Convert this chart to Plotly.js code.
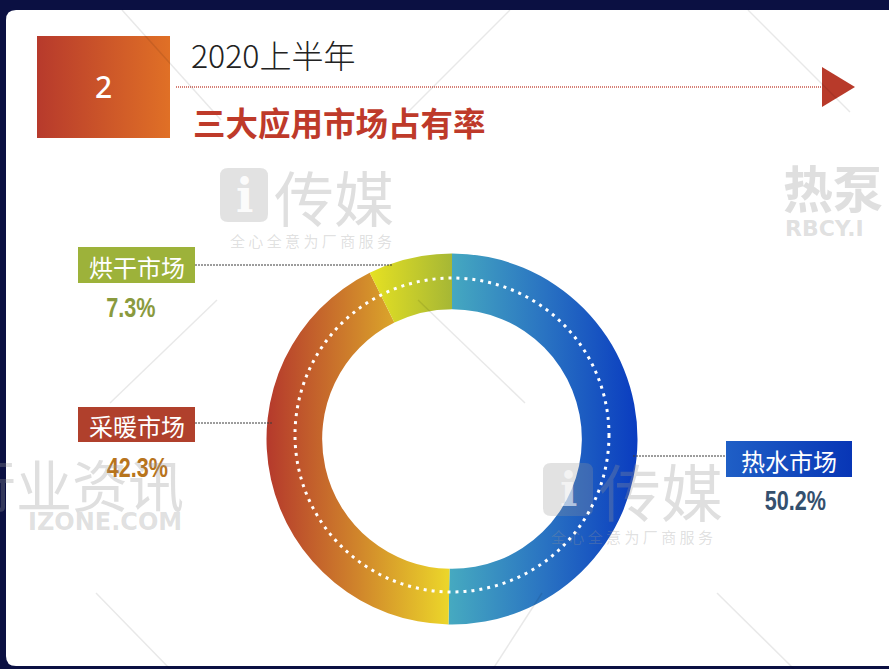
<!DOCTYPE html>
<html>
<head>
<meta charset="utf-8">
<script src="https://cdn.plot.ly/plotly-3.0.1.min.js"></script>
<style>
html,body{margin:0;padding:0;background:#0b1042;}
#plot{width:889px;height:669px;}
</style>
</head>
<body>
<div id="plot"></div>
<script>
// ---- data ----
const categories = ['热水市场', '采暖市场', '烘干市场'];
const shares = [50.2, 42.3, 7.3];
const sectionNo = '2';
const titleYear = '2020上半年';
const titleMain = '三大应用市场占有率';

// ---- styling / layout config ----
const CJK = '"Noto Sans CJK SC", "Noto Sans", sans-serif';
const PCTFONT = '"Liberation Sans", Arial, sans-serif';
const labelCfg = [
  {box: [726, 441, 852, 477], fill: '#1447bc', pct: [795, 501], pctColor: '#34506e', line: [633, 456, 726, 456]},
  {box: [78, 407, 195, 442], fill: '#b0402c', pct: [137, 468], pctColor: '#b8741c', line: [195, 423, 272, 423]},
  {box: [78, 247, 195, 283], fill: '#9db23a', pct: [131, 308], pctColor: '#8a9a3e', line: [195, 265, 392, 265]}
];
const sliceGrads = [
  [['0', '#46aac0'], ['0.5', '#2a74c2'], ['1', '#0a3cc0']],
  [['0', '#b5392c'], ['0.5', '#d0852b'], ['1', '#ecd72a']],
  [['0', '#e6e122'], ['1', '#a6b735']]
];
const cx = 452, cy = 439, R = 185.5, W = 889, H = 669;

function rr(x0, y0, x1, y1, r) {
  return `M${x0 + r},${y0} L${x1 - r},${y0} Q${x1},${y0} ${x1},${y0 + r} L${x1},${y1 - r} Q${x1},${y1} ${x1 - r},${y1} L${x0 + r},${y1} Q${x0},${y1} ${x0},${y1 - r} L${x0},${y0 + r} Q${x0},${y0} ${x0 + r},${y0} Z`;
}

const shapes = [];
const annotations = [];
// card
shapes.push({type: 'path', xref: 'x', yref: 'y', layer: 'below', path: 'M6,20 Q6,10 16,10 L905,10 L905,666 L16,666 Q6,666 6,656 Z', fillcolor: '#ffffff', line: {width: 0}});
// section number square
const squareIdx = shapes.length;
shapes.push({type: 'rect', xref: 'x', yref: 'y', layer: 'below', x0: 37, x1: 170, y0: 36, y1: 138, fillcolor: '#cc5428', line: {width: 0}});
// dotted red line + arrow
shapes.push({type: 'line', xref: 'x', yref: 'y', layer: 'below', x0: 176, x1: 822, y0: 87, y1: 87, line: {color: 'rgba(190,58,42,0.85)', width: 1.5, dash: '1px,1px'}});
shapes.push({type: 'path', xref: 'x', yref: 'y', layer: 'below', path: 'M822,67 L855,87 L822,107 Z', fillcolor: '#b83a2a', line: {width: 0}});

// watermark logos
const wm = 'rgba(150,150,150,0.30)';
shapes.push({type: 'path', xref: 'x', yref: 'y', layer: 'above', path: rr(220, 168, 268, 222, 8), fillcolor: 'rgba(150,150,150,0.28)', line: {width: 0}});
shapes.push({type: 'path', xref: 'x', yref: 'y', layer: 'above', path: rr(543, 463, 593, 516, 8), fillcolor: 'rgba(150,150,150,0.28)', line: {width: 0}});
// faint diagonal lines
const diag = [[122, 10, 221, 120], [510, 10, 408, 112], [748, 10, 850, 112], [217, 300, 110, 403], [418, 300, 525, 403], [542, 593, 493, 669], [96, 593, 170, 669], [717, 593, 794, 669]];
diag.forEach(d => shapes.push({type: 'line', xref: 'x', yref: 'y', layer: 'above', x0: d[0], y0: d[1], x1: d[2], y1: d[3], line: {color: 'rgba(0,0,0,0.09)', width: 1.5}}));

// dotted white ring
shapes.push({type: 'circle', xref: 'x', yref: 'y', layer: 'above', x0: cx - 157, x1: cx + 157, y0: 435 - 157, y1: 435 + 157, line: {color: '#ffffff', width: 3, dash: '3px,5px'}});

// label boxes, leaders, texts
const boxIdx = [];
const pctAnnIdx = [];
categories.forEach((c, i) => {
  const L = labelCfg[i];
  shapes.push({type: 'line', xref: 'x', yref: 'y', layer: 'above', x0: L.line[0], y0: L.line[1], x1: L.line[2], y1: L.line[3], line: {color: '#3a3a3a', width: 1, dash: '2px,1px'}});
  boxIdx.push(shapes.length);
  shapes.push({type: 'rect', xref: 'x', yref: 'y', layer: 'above', x0: L.box[0], y0: L.box[1], x1: L.box[2], y1: L.box[3], fillcolor: L.fill, line: {width: 0}});
  annotations.push({xref: 'x', yref: 'y', x: (L.box[0] + L.box[2]) / 2, y: (L.box[1] + L.box[3]) / 2 + 1, text: c, showarrow: false, xanchor: 'center', yanchor: 'middle', font: {family: CJK, size: 24, color: '#ffffff'}});
  pctAnnIdx.push(annotations.length);
  annotations.push({xref: 'x', yref: 'y', x: L.pct[0], y: L.pct[1], text: shares[i].toFixed(1) + '%', showarrow: false, xanchor: 'center', yanchor: 'middle', font: {family: PCTFONT, size: 27, color: L.pctColor, weight: 700}});
});

// titles
annotations.push({xref: 'x', yref: 'y', x: 103, y: 86, text: sectionNo, showarrow: false, xanchor: 'center', yanchor: 'middle', font: {family: '"Noto Sans", sans-serif', size: 30, color: '#ffffff', weight: 500}});
annotations.push({xref: 'x', yref: 'y', x: 189, y: 54, text: titleYear, showarrow: false, xanchor: 'left', yanchor: 'middle', font: {family: CJK, size: 32, color: '#222222', weight: 300}});
annotations.push({xref: 'x', yref: 'y', x: 191, y: 121, text: titleMain, showarrow: false, xanchor: 'left', yanchor: 'middle', font: {family: CJK, size: 32.5, color: '#be3a2a', weight: 700}});

// watermark texts
const wmFont = (s, b) => ({family: CJK, size: s, color: wm, weight: b ? 700 : 400});
annotations.push({xref: 'x', yref: 'y', x: 244, y: 196, text: 'i', showarrow: false, font: {family: '"DejaVu Serif", serif', size: 46, color: 'rgba(255,255,255,0.9)', weight: 700}});
annotations.push({xref: 'x', yref: 'y', x: 568, y: 490, text: 'i', showarrow: false, font: {family: '"DejaVu Serif", serif', size: 46, color: 'rgba(255,255,255,0.6)', weight: 700}});
annotations.push({xref: 'x', yref: 'y', x: 272, y: 195, text: '传媒', showarrow: false, xanchor: 'left', yanchor: 'middle', font: wmFont(60, false)});
annotations.push({xref: 'x', yref: 'y', x: 311, y: 240, text: '全 心 全 意 为 厂 商 服 务', showarrow: false, xanchor: 'center', yanchor: 'middle', font: wmFont(15, false)});
annotations.push({xref: 'x', yref: 'y', x: 597, y: 490, text: '传媒', showarrow: false, xanchor: 'left', yanchor: 'middle', font: wmFont(62, false)});
annotations.push({xref: 'x', yref: 'y', x: 632, y: 536, text: '全 心 全 意 为 厂 商 服 务', showarrow: false, xanchor: 'center', yanchor: 'middle', font: wmFont(15, false)});
annotations.push({xref: 'x', yref: 'y', x: 781, y: 186, text: '热泵', showarrow: false, xanchor: 'left', yanchor: 'middle', font: wmFont(50, true)});
annotations.push({xref: 'x', yref: 'y', x: 783, y: 228, text: 'RBCY.I', showarrow: false, xanchor: 'left', yanchor: 'middle', font: {family: '"DejaVu Sans", sans-serif', size: 22, color: wm, weight: 700}});
annotations.push({xref: 'x', yref: 'y', x: 186, y: 482, text: '行业资讯', showarrow: false, xanchor: 'right', yanchor: 'middle', font: wmFont(56, false)});
annotations.push({xref: 'x', yref: 'y', x: 184, y: 522, text: 'IZONE.COM', showarrow: false, xanchor: 'right', yanchor: 'middle', font: {family: '"DejaVu Sans", sans-serif', size: 24, color: wm, weight: 700}});

const traces = [
  {type: 'scatter', x: [], y: [], hoverinfo: 'skip', showlegend: false},
  {
    type: 'pie', labels: categories, values: shares, sort: false, direction: 'clockwise', rotation: 0,
    hole: 0.70, textinfo: 'none', hoverinfo: 'label+percent', showlegend: false,
    marker: {colors: ['#2a74c2', '#d0852b', '#cccc2c'], line: {width: 0}},
    domain: {x: [(cx - R) / W, (cx + R) / W], y: [(H - cy - R) / H, (H - cy + R) / H]}
  }
];

const layout = {
  width: W, height: H,
  margin: {l: 0, r: 0, t: 0, b: 0, pad: 0},
  paper_bgcolor: '#0b1042', plot_bgcolor: 'rgba(0,0,0,0)',
  xaxis: {range: [0, W], visible: false, fixedrange: true, domain: [0, 1]},
  yaxis: {range: [H, 0], visible: false, fixedrange: true, domain: [0, 1]},
  shapes: shapes, annotations: annotations, showlegend: false
};

const gd = document.getElementById('plot');
Plotly.newPlot(gd, traces, layout, {staticPlot: true}).then(() => {
  const svgNS = 'http://www.w3.org/2000/svg';
  const defs = gd.querySelector('svg.main-svg defs');
  function addGrad(id, stops) {
    const g = document.createElementNS(svgNS, 'linearGradient');
    g.setAttribute('id', id);
    g.setAttribute('x1', '0'); g.setAttribute('y1', '0');
    g.setAttribute('x2', '1'); g.setAttribute('y2', '0');
    stops.forEach(s => {
      const st = document.createElementNS(svgNS, 'stop');
      st.setAttribute('offset', s[0]);
      st.setAttribute('stop-color', s[1]);
      g.appendChild(st);
    });
    defs.appendChild(g);
  }
  sliceGrads.forEach((s, i) => addGrad('sliceGrad' + i, s));
  addGrad('squareGrad', [['0', '#b73a2c'], ['1', '#e07026']]);
  addGrad('blueBoxGrad', [['0', '#1f5fc6'], ['1', '#0836b6']]);
  gd.querySelectorAll('.pielayer .slice path.surface').forEach((p, i) => {
    if (i < sliceGrads.length) p.style.setProperty('fill', 'url(#sliceGrad' + i + ')');
  });
  gd.querySelectorAll('.shapelayer path[data-index="' + squareIdx + '"]').forEach(p => p.style.setProperty('fill', 'url(#squareGrad)'));
  gd.querySelectorAll('.shapelayer path[data-index="' + boxIdx[0] + '"]').forEach(p => p.style.setProperty('fill', 'url(#blueBoxGrad)'));
  // condensed look for percentage figures
  pctAnnIdx.forEach(k => {
    const g = gd.querySelector('.infolayer g.annotation[data-index="' + k + '"] text');
    if (g) {
      g.style.transformBox = 'fill-box';
      g.style.transformOrigin = 'center';
      g.style.transform = 'scaleX(0.8)';
    }
  });
});
</script>
</body>
</html>
